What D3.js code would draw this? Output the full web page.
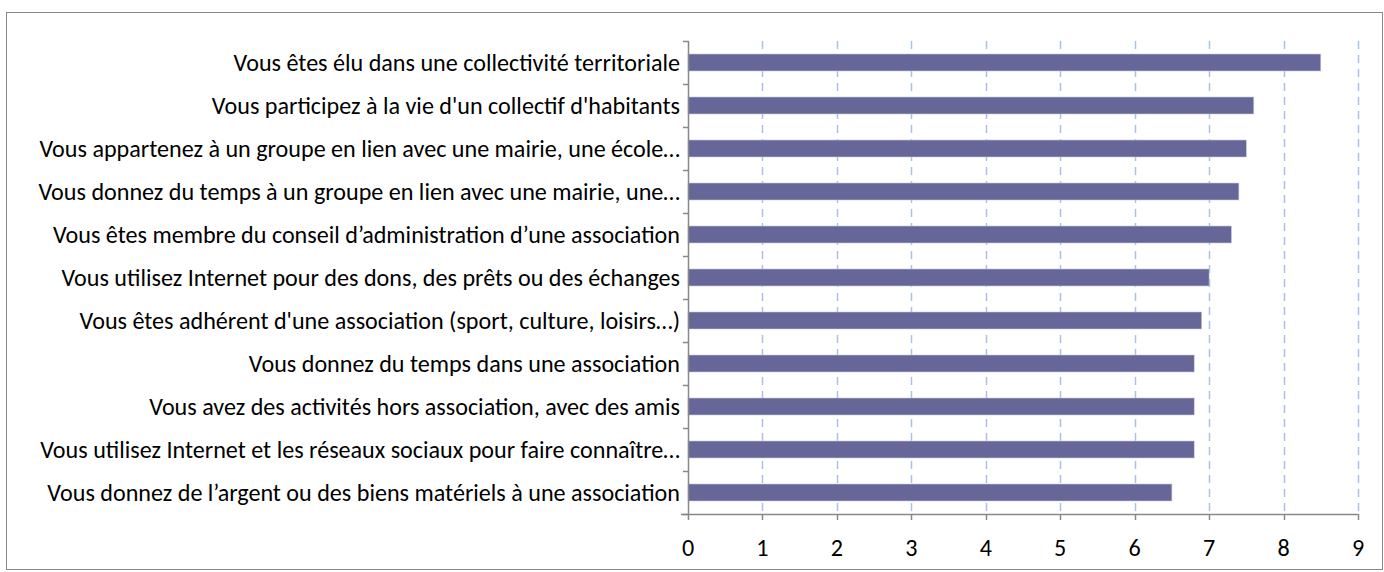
<!DOCTYPE html>
<html><head><meta charset="utf-8">
<script src="https://cdn.jsdelivr.net/npm/d3@7"></script>
<style>body{margin:0;background:#fff}svg{display:block}</style>
</head><body>
<script>
const categories = [
  "Vous êtes élu dans une collectivité territoriale",
  "Vous participez à la vie d'un collectif d'habitants",
  "Vous appartenez à un groupe en lien avec une mairie, une école…",
  "Vous donnez du temps à un groupe en lien avec une mairie, une…",
  "Vous êtes membre du conseil d’administration d’une association",
  "Vous utilisez Internet pour des dons, des prêts ou des échanges",
  "Vous êtes adhérent d'une association (sport, culture, loisirs…)",
  "Vous donnez du temps dans une association",
  "Vous avez des activités hors association, avec des amis",
  "Vous utilisez Internet et les réseaux sociaux pour faire connaître…",
  "Vous donnez de l’argent ou des biens matériels à une association"
];
const values = [8.5, 7.6, 7.5, 7.4, 7.3, 7.0, 6.9, 6.8, 6.8, 6.8, 6.5];
const tickValues = [0,1,2,3,4,5,6,7,8,9];

const W = 1384, H = 572;
const FONT = "Carlito, 'Open Sans', sans-serif";
const svg = d3.select("body").append("svg").attr("width", W).attr("height", H);
svg.append("rect").attr("x",6.5).attr("y",12.5).attr("width",1376).attr("height",557)
  .attr("fill","#fff").attr("stroke","#888").attr("stroke-width",1);

const x = d3.scaleLinear().domain([0,9]).range([688,1358]);
const yb = d3.scaleBand().domain(categories).range([41,514]);

// gridlines
svg.append("g").selectAll("line").data(tickValues.slice(1)).join("line")
  .attr("x1", d=>Math.round(x(d))+0.5).attr("x2", d=>Math.round(x(d))+0.5)
  .attr("y1", 41).attr("y2", 514)
  .attr("stroke","#a9c1e8").attr("stroke-width",1.5).attr("stroke-dasharray","8,6");

// bars
svg.append("g").selectAll("rect").data(values).join("rect")
  .attr("x", x(0)).attr("y", (d,i)=>yb(categories[i]) + yb.bandwidth()/2 - 8.5)
  .attr("width", d=>x(d)-x(0)).attr("height", 17)
  .attr("fill","#666699").attr("stroke","#c8c8dc").attr("stroke-width",0.6);

// left axis
const ly = svg.append("g");
ly.append("line").attr("x1",688.5).attr("x2",688.5).attr("y1",41).attr("y2",514).attr("stroke","#888").attr("stroke-width",1.5);
const bounds = d3.range(categories.length+1).map(i=>41 + i*yb.step());
ly.selectAll("line.t").data(bounds).join("line").attr("class","t")
  .attr("x1",683).attr("x2",688.5).attr("y1",d=>Math.round(d)+0.5).attr("y2",d=>Math.round(d)+0.5)
  .attr("stroke","#888").attr("stroke-width",1.5);
const labels = ly.selectAll("text").data(categories).join("text")
  .attr("x", 680).attr("y", d=>yb(d)+yb.bandwidth()/2)
  .attr("text-anchor","end").attr("dominant-baseline","central")
  .attr("font-family",FONT).attr("font-size",20).attr("fill","#000")
  .text(d=>d);
// fit the longest label to the reference width (~640px)
const longest = labels.filter((d,i)=>i===9).node().getComputedTextLength();
const fs = 20 * 640 / longest;
labels.attr("font-size", fs);

// bottom axis
const bx = svg.append("g");
bx.append("line").attr("x1",681).attr("x2",1358).attr("y1",514.5).attr("y2",514.5).attr("stroke","#888").attr("stroke-width",1.5);
bx.selectAll("line.t").data(tickValues).join("line").attr("class","t")
  .attr("x1",d=>Math.round(x(d))+0.5).attr("x2",d=>Math.round(x(d))+0.5).attr("y1",514).attr("y2",520)
  .attr("stroke","#888").attr("stroke-width",1.5);
bx.selectAll("text").data(tickValues).join("text")
  .attr("x", d=>x(d)).attr("y", 547).attr("text-anchor","middle").attr("dominant-baseline","central")
  .attr("font-family",FONT).attr("font-size",fs).attr("fill","#000")
  .text(d=>d);
</script>
</body></html>
